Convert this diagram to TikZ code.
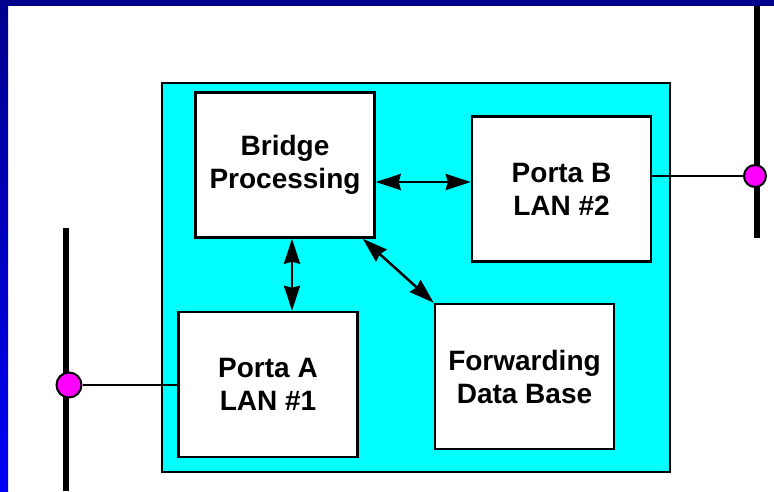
\documentclass[tikz,border=0pt]{standalone}
\usepackage{fontspec}
\setmainfont{Liberation Sans}
\usetikzlibrary{positioning,arrows.meta}

\definecolor{framenavy}{RGB}{0,0,140}
\definecolor{frameblue}{RGB}{0,0,245}
\definecolor{unitcyan}{RGB}{0,255,255}
\definecolor{tapmagenta}{RGB}{255,0,255}

\tikzset{
  block/.style={draw, line width=2.5pt, fill=white, minimum width=179pt, minimum height=145pt,
    align=center, font=\fontsize{28}{33}\selectfont\bfseries},
  link/.style={{Stealth[length=25pt,width=16pt,inset=2pt]}-{Stealth[length=25pt,width=16pt,inset=2pt]}, line width=2.5pt},
  tap/.style={circle, draw, line width=2pt, fill=tapmagenta, inner sep=0pt},
  lan/.style={line width=6pt},
}

\begin{document}
\begin{tikzpicture}[x=1pt,y=-1pt]
    \useasboundingbox (0,0) rectangle (774,491);
    \fill[white] (0,0) rectangle (774,491);
    % LAN segments
    \draw[lan] (66,228) -- (66,491);
    \draw[lan] (757,0) -- (757,238);
    % bridge unit
    \draw[line width=2.5pt, fill=unitcyan] (162,83) rectangle (670,472);
    \node (bridge) [block] at (285,165) {Bridge\\Processing};
    \node (portb) [block, right=95pt of bridge, yshift=-24pt] {Porta B\\LAN \#2};
    \node (porta) [block, below=72pt of bridge, xshift=-17pt] {Porta A\\LAN \#1};
    \node (fwd) [block, below=40pt of portb, xshift=-37pt] {Forwarding\\Data Base};
    \node (tapa) [tap, minimum size=25pt] at (69,385) {};
    \node (tapb) [tap, minimum size=22pt] at (755,176) {};
    \draw[line width=2pt] (tapa) -- (tapa -| porta.west);
    \draw[line width=2pt] (tapb) -- (tapb -| portb.east);
    \draw[link] ([yshift=-17pt]bridge.east) -- ([yshift=-17pt]bridge.east -| portb.west);
    \draw[link] ([xshift=7pt]bridge.south) -- ([xshift=7pt]bridge.south |- porta.north);
    \draw[link] ([xshift=-13pt]bridge.south east) -- (fwd.north west);
    % slide frame
    \shade[top color=framenavy, bottom color=frameblue] (0,0) rectangle (8,491);
    \fill[framenavy] (0,0) rectangle (774,6);
\end{tikzpicture}
\end{document}
